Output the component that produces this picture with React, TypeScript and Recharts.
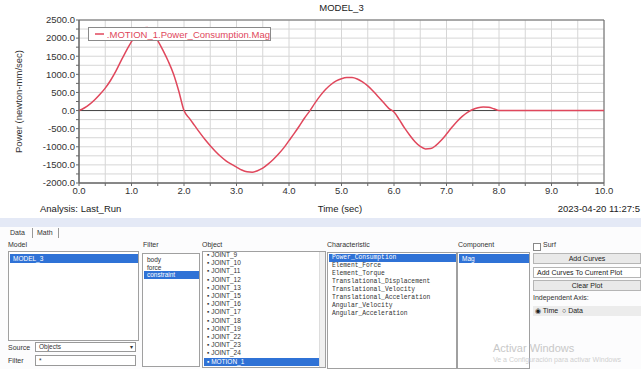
import React from "react";
import {
  LineChart,
  Line,
  XAxis,
  YAxis,
  CartesianGrid,
  ReferenceLine,
  ReferenceArea,
  Legend,
} from "recharts";

// ---- chart data ----
const times = [
  0, 0.1, 0.2, 0.3, 0.4, 0.5, 0.6, 0.7, 0.8, 0.9, 1.0, 1.1, 1.2, 1.3, 1.4, 1.5, 1.6, 1.7, 1.8, 1.9,
  2.0, 2.1, 2.2, 2.3, 2.4, 2.5, 2.6, 2.7, 2.8, 2.9, 3.0, 3.1, 3.2, 3.3, 3.4, 3.5, 3.6, 3.7, 3.8, 3.9,
  4.0, 4.1, 4.2, 4.3, 4.4, 4.5, 4.6, 4.7, 4.8, 4.9, 5.0, 5.1, 5.2, 5.3, 5.4, 5.5, 5.6, 5.7, 5.8, 5.9,
  6.0, 6.1, 6.2, 6.3, 6.4, 6.5, 6.6, 6.7, 6.8, 6.9, 7.0, 7.1, 7.2, 7.3, 7.4, 7.5, 7.6, 7.7, 7.8, 7.9,
  8.0, 8.5, 9.0, 9.5, 10.0,
];
const power = [
  0, 70, 170, 300, 450, 620, 830, 1080, 1370, 1650, 1900, 2140, 2270, 2290, 2170, 1930, 1660, 1360, 1010, 540,
  0, -210, -410, -610, -800, -970, -1130, -1270, -1390, -1480, -1560, -1640, -1690, -1700, -1660, -1590, -1480, -1350, -1200, -1030,
  -830, -630, -420, -200, 0, 220, 420, 590, 720, 820, 880, 910, 910, 870, 790, 680, 540, 380, 220, 60,
  -40, -250, -480, -680, -860, -990, -1060, -1050, -960, -820, -650, -470, -300, -160, -50, 30, 80, 100, 90, 50,
  0, 0, 0, 0, 0,
];
const xTicks = [0, 0.5, 1, 1.5, 2, 2.5, 3, 3.5, 4, 4.5, 5, 5.5, 6, 6.5, 7, 7.5, 8, 8.5, 9, 9.5, 10];
const yTicks = [
  -2000, -1750, -1500, -1250, -1000, -750, -500, -250, 0, 250, 500, 750, 1000, 1250, 1500, 1750, 2000, 2250, 2500,
];
const seriesName = ".MOTION_1.Power_Consumption.Mag";
const chartTitle = "MODEL_3";
const yLabel = "Power (newton-mm/sec)";
const xLabel = "Time (sec)";
const analysisLabel = "Analysis:  Last_Run";
const dateLabel = "2023-04-20 11:27:5";

// ---- panel texts ----
const modelItems = ["MODEL_3"];
const filterItems = ["body", "force", "constraint"];
const objectItems = [
  "JOINT_9", "JOINT_10", "JOINT_11", "JOINT_12", "JOINT_13", "JOINT_15", "JOINT_16",
  "JOINT_17", "JOINT_18", "JOINT_19", "JOINT_22", "JOINT_23", "JOINT_24", "MOTION_1",
];
const characteristicItems = [
  "Power_Consumption", "Element_Force", "Element_Torque", "Translational_Displacement",
  "Translational_Velocity", "Translational_Acceleration", "Angular_Velocity", "Angular_Acceleration",
];
const componentItems = ["Mag"];

const data = times.map((t, i) => ({ t, p: power[i] }));

const RED = "#e0475c";
const SEL = "#2f72d6";
const UI_FONT = "'Liberation Sans', Arial, sans-serif";

const LegendBox = () => (
  <div
    style={{
      display: "flex",
      alignItems: "center",
      background: "#fff",
      border: "1px solid #8a8a8a",
      height: 14,
      width: 183,
      boxSizing: "border-box",
      fontFamily: UI_FONT,
      fontSize: 9.5,
      color: RED,
      whiteSpace: "nowrap",
    }}
  >
    <svg width={20} height={10} style={{ marginLeft: 6, marginRight: 3 }}>
      <line x1={0} y1={5} x2={14} y2={5} stroke={RED} strokeWidth={1.5} />
    </svg>
    <span>{seriesName}</span>
  </div>
);

const abs = (left: number, top: number, extra: React.CSSProperties = {}): React.CSSProperties => ({
  position: "absolute",
  left,
  top,
  ...extra,
});

const ListBox = ({
  left,
  top,
  width,
  height,
  items,
  selected,
  rowH,
  offset,
  mono,
  marker,
  scroll,
}: {
  left: number;
  top: number;
  width: number;
  height: number;
  items: string[];
  selected: number;
  rowH: number;
  offset: number;
  mono?: boolean;
  marker?: boolean;
  scroll?: boolean;
}) => (
  <div
    style={abs(left, top, {
      width,
      height,
      border: "1px solid #a0a0a0",
      background: "#fff",
      overflow: "hidden",
      boxSizing: "border-box",
    })}
  >
    {items.map((it, i) => (
      <div
        key={it}
        style={abs(1, offset + i * rowH, {
          width: width - (scroll ? 9 : 3),
          height: rowH,
          lineHeight: rowH + "px",
          background: i === selected ? SEL : "transparent",
          color: i === selected ? "#fff" : "#333",
          fontFamily: mono ? "'Liberation Mono', monospace" : UI_FONT,
          fontSize: mono ? 6.3 : 6.5,
          paddingLeft: 3,
          boxSizing: "border-box",
          whiteSpace: "nowrap",
          overflow: "hidden",
        })}
      >
        {marker ? "▪ " : ""}
        {it}
      </div>
    ))}
    {scroll && (
      <div
        style={abs(width - 8, 0, {
          width: 6,
          height: height - 2,
          background: "#f0f0f0",
          borderLeft: "1px solid #ddd",
        })}
      />
    )}
  </div>
);

const Button = ({ top, text }: { top: number; text: string }) => (
  <div
    style={abs(533, top, {
      width: 108,
      height: 11,
      background: "#e9e9e9",
      border: "1px solid #b5b5b5",
      boxSizing: "border-box",
      fontFamily: UI_FONT,
      fontSize: 7,
      lineHeight: "9px",
      textAlign: "center",
      color: "#222",
    })}
  >
    {text}
  </div>
);

const label = (left: number, top: number, text: string, extra: React.CSSProperties = {}) => (
  <div
    style={abs(left, top, {
      fontFamily: UI_FONT,
      fontSize: 7,
      color: "#333",
      whiteSpace: "nowrap",
      ...extra,
    })}
  >
    {text}
  </div>
);

export default function App() {
  return (
    <div
      style={{
        position: "absolute",
        left: 0,
        top: 0,
        width: 641,
        height: 369,
        background: "#fff",
        overflow: "hidden",
        fontFamily: UI_FONT,
      }}
    >
      {/* Title */}
      <div style={abs(0, 2, { width: 683, textAlign: "center", fontSize: 9.5, color: "#222" })}>{chartTitle}</div>

      <div style={abs(0, 0)}>
        <LineChart width={641} height={215} data={data} margin={{ top: 20, right: 37, bottom: 0, left: 0 }}>
          <CartesianGrid stroke="#d6d6d6" strokeWidth={1} />
          <XAxis
            dataKey="t"
            type="number"
            domain={[0, 10]}
            ticks={xTicks}
            interval={0}
            tickFormatter={(v: number) => (Number.isInteger(v) ? v.toFixed(1) : "")}
            height={32}
            tickSize={3}
            tickMargin={1}
            stroke="#666"
            tick={{ fontSize: 9.5, fill: "#333", fontFamily: UI_FONT }}
          />
          <YAxis
            type="number"
            domain={[-2000, 2500]}
            ticks={yTicks}
            interval={0}
            tickFormatter={(v: number) => (v % 500 === 0 ? v.toFixed(1) : "")}
            width={79}
            tickSize={3}
            tickMargin={1}
            stroke="#666"
            tick={{ fontSize: 9.5, fill: "#333", fontFamily: UI_FONT }}
            label={{
              value: yLabel,
              angle: -90,
              position: "insideLeft",
              offset: 19,
              style: { textAnchor: "middle", fontSize: 9.5, fill: "#333", fontFamily: UI_FONT },
            }}
          />
          <ReferenceArea x1={0} x2={10} y1={-2000} y2={2500} fill="none" stroke="#666" strokeWidth={1} />
          <ReferenceLine y={0} stroke="#444" strokeWidth={1} />
          <Line
            type="monotone"
            dataKey="p"
            name={seriesName}
            stroke={RED}
            strokeWidth={1.5}
            dot={false}
            isAnimationActive={false}
          />
          <Legend
            layout="horizontal"
            verticalAlign="middle"
            align="center"
            content={() => <LegendBox />}
            wrapperStyle={{ position: "absolute", left: 88, top: 27, width: 183, height: 14 }}
          />
        </LineChart>
      </div>

      {/* captions below plot */}
      <div style={abs(40, 203, { fontSize: 9.5, color: "#222" })}>{analysisLabel}</div>
      <div style={abs(0, 203, { width: 680, textAlign: "center", fontSize: 9.5, color: "#222" })}>{xLabel}</div>
      <div style={abs(0, 203, { width: 640, textAlign: "right", fontSize: 9.5, color: "#222", whiteSpace: "nowrap" })}>
        {dateLabel}
      </div>

      {/* panel */}
      <div style={abs(0, 218, { width: 641, height: 9, background: "#e4e9f6" })} />
      <div style={abs(0, 227, { width: 641, height: 142, background: "#fcfcfd" })} />
      {label(10, 229, "Data")}
      <div style={abs(32, 228, { width: 1, height: 10, background: "#999" })} />
      {label(37, 229, "Math")}
      <div style={abs(58, 228, { width: 1, height: 10, background: "#999" })} />

      {label(8, 241, "Model")}
      {label(143, 241, "Filter")}
      {label(202, 241, "Object")}
      {label(327, 241, "Characteristic")}
      {label(458, 241, "Component")}
      <div style={abs(533, 243, { width: 6, height: 6, border: "1px solid #888", background: "#fff" })} />
      {label(543, 241, "Surf")}

      <ListBox left={8} top={251} width={131} height={90} items={modelItems} selected={0} rowH={9} offset={2} />
      <ListBox left={142} top={253} width={58} height={114} items={filterItems} selected={2} rowH={7.5} offset={2} />
      <ListBox
        left={202}
        top={251}
        width={124}
        height={117}
        items={objectItems}
        selected={13}
        rowH={8.2}
        offset={-1}
        marker
        scroll
      />
      <ListBox
        left={327}
        top={252}
        width={130}
        height={117}
        items={characteristicItems}
        selected={0}
        rowH={8}
        offset={1}
        mono
      />
      <ListBox left={457} top={252} width={73} height={117} items={componentItems} selected={0} rowH={9} offset={1} />

      {label(8, 344, "Source")}
      <div
        style={abs(35, 342, {
          width: 101,
          height: 10,
          border: "1px solid #999",
          background: "#fff",
          boxSizing: "border-box",
          fontSize: 6.5,
          lineHeight: "8px",
          paddingLeft: 3,
          color: "#333",
        })}
      >
        Objects
        <span style={{ position: "absolute", right: 2, top: 0, fontSize: 6 }}>▾</span>
      </div>
      {label(8, 357, "Filter")}
      <div
        style={abs(35, 355, {
          width: 101,
          height: 11,
          border: "1px solid #999",
          background: "#fff",
          boxSizing: "border-box",
          fontSize: 6.5,
          lineHeight: "9px",
          paddingLeft: 3,
          color: "#333",
        })}
      >
        *
      </div>

      <Button top={253} text="Add Curves" />
      <div
        style={abs(533, 267, {
          width: 108,
          height: 11,
          background: "#fff",
          border: "1px solid #b5b5b5",
          boxSizing: "border-box",
          fontSize: 7,
          lineHeight: "9px",
          paddingLeft: 3,
          color: "#222",
          whiteSpace: "nowrap",
        })}
      >
        Add Curves To Current Plot
      </div>
      <Button top={280} text="Clear Plot" />
      {label(533, 294, "Independent Axis:")}
      <div
        style={abs(533, 306, {
          width: 108,
          height: 10,
          background: "#ececec",
          fontSize: 7,
          lineHeight: "10px",
          paddingLeft: 2,
          color: "#222",
          whiteSpace: "nowrap",
        })}
      >
        ◉ Time &nbsp;○ Data
      </div>

      {label(493, 342, "Activar Windows", { fontSize: 11, color: "#c8c8c8" })}
      {label(493, 356, "Ve a Configuración para activar Windows", { fontSize: 7, color: "#d0d0d0" })}
    </div>
  );
}
